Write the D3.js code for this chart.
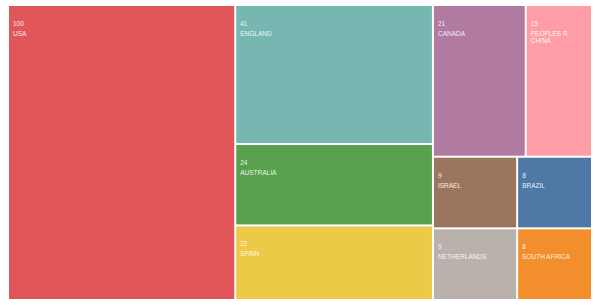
<!DOCTYPE html>
<html>
<head>
<meta charset="utf-8">
<script src="https://cdn.jsdelivr.net/npm/d3@7"></script>
<style>
  body { margin: 0; background: #fff; }
  svg { display: block; }
</style>
</head>
<body>
<div id="chart"></div>
<script>
const countries = ["USA", "ENGLAND", "AUSTRALIA", "SPAIN", "CANADA", "PEOPLES R CHINA", "ISRAEL", "NETHERLANDS", "BRAZIL", "SOUTH AFRICA"];
const counts = [100, 41, 24, 22, 21, 15, 9, 9, 8, 8];
const colors = ["#e15759", "#76b7b2", "#59a14f", "#edc948", "#b07aa1", "#ff9da7", "#9c755f", "#bab0ac", "#4e79a7", "#f28e2b"];

const width = 595,
    height = 306,
    margin = { top: 6, right: 4, bottom: 7, left: 9 };

const svg = d3.select("#chart").append("svg")
    .attr("width", width)
    .attr("height", height);

const root = d3.hierarchy({ children: countries.map((c, i) => ({ name: c, value: counts[i] })) })
    .sum(d => d.value || 0)
    .sort((a, b) => b.value - a.value);

d3.treemap()
    .tile(d3.treemapSquarify)
    .size([width - margin.left - margin.right, height - margin.top - margin.bottom])
    .paddingInner(2)(root);

const color = d3.scaleOrdinal()
    .domain(countries)
    .range(colors);

const cell = svg.selectAll("g.cell")
    .data(root.leaves())
    .enter()
    .append("g")
    .attr("class", "cell")
    .attr("transform", d => `translate(${margin.left + d.x0},${margin.top + d.y0})`);

cell.append("rect")
    .attr("width", d => d.x1 - d.x0)
    .attr("height", d => d.y1 - d.y0)
    .attr("fill", d => color(d.data.name));

cell.append("text")
    .attr("x", 4)
    .attr("y", 20)
    .attr("fill", "#fff")
    .attr("fill-opacity", 0.9)
    .style("font-family", "Liberation Sans, Arial, sans-serif")
    .style("font-size", "6.5px")
    .text(d => d.data.value);

// name, wrapped when wider than the cell
cell.each(function(d) {
    const maxW = d.x1 - d.x0 - 20;
    const t = d3.select(this).append("text")
        .attr("y", 30)
        .attr("fill", "#fff")
        .attr("fill-opacity", 0.9)
        .style("font-family", "Liberation Sans, Arial, sans-serif")
        .style("font-size", "6.5px");
    let line = [];
    let tspan = t.append("tspan").attr("x", 4);
    d.data.name.split(" ").forEach(word => {
        line.push(word);
        tspan.text(line.join(" "));
        if (tspan.node().getComputedTextLength() > maxW && line.length > 1) {
            line.pop();
            tspan.text(line.join(" "));
            line = [word];
            tspan = t.append("tspan").attr("x", 4).attr("dy", 6.5).text(word);
        }
    });
});
</script>
</body>
</html>
